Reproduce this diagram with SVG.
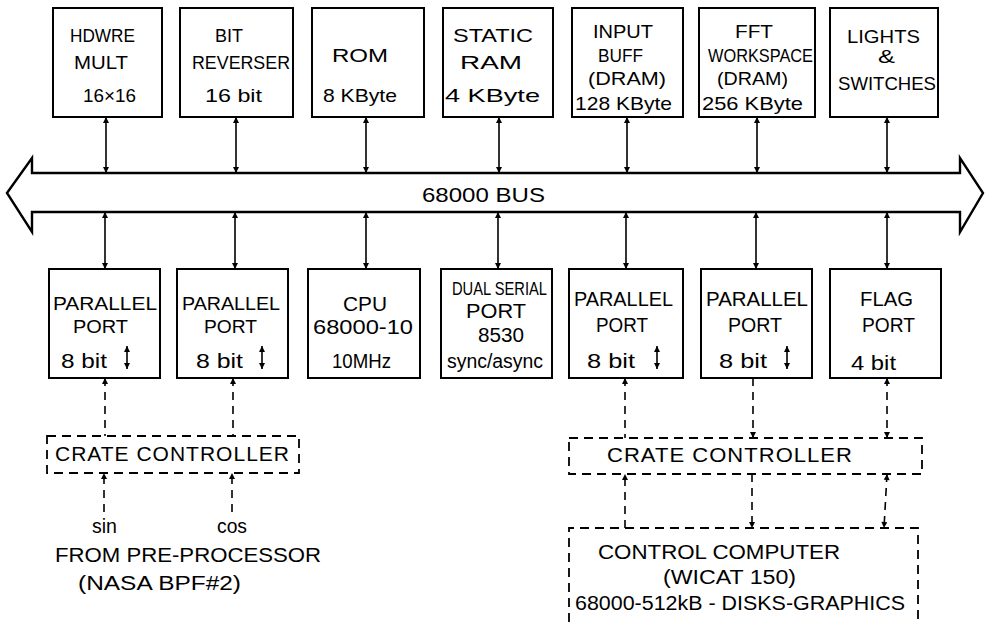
<svg xmlns="http://www.w3.org/2000/svg" width="985" height="622" viewBox="0 0 985 622">
<defs>
<style>
.box{fill:#fff;stroke:#000;stroke-width:2}
.dbox{fill:none;stroke:#000;stroke-width:1.8;stroke-dasharray:9,6}
.ln{stroke:#000;stroke-width:1.6;fill:none}
.dl{stroke:#000;stroke-width:1.6;fill:none;stroke-dasharray:8,6}
text{font-family:"Liberation Sans",Arial,sans-serif;fill:#000}
.t1{font-size:19px}
.t2{font-size:20px}
.t3{font-size:21px;letter-spacing:1px}
</style>
<marker id="ah" viewBox="0 0 10 10" refX="10" refY="5" markerWidth="8" markerHeight="6" markerUnits="userSpaceOnUse" orient="auto-start-reverse">
<path d="M0,0 L10,5 L0,10 Z" fill="#000"/>
</marker>
</defs>
<g id="bus">
<polygon points="7,193 32,158 32,173 960,173 960,158 983,193 960,232 960,212 32,212 32,232" fill="#fff" stroke="#000" stroke-width="2.4" stroke-linejoin="miter"/>
<text x="422" y="202" class="t2" textLength="123" lengthAdjust="spacingAndGlyphs" style="font-size:21px">68000 BUS</text>
</g>
<g id="hdwre-mult">
<rect class="box" x="53" y="8" width="109" height="109"/>
<text class="t1" x="70" y="42" textLength="65" lengthAdjust="spacingAndGlyphs">HDWRE</text>
<text class="t1" x="74" y="69" textLength="54" lengthAdjust="spacingAndGlyphs">MULT</text>
<text class="t1" x="83" y="102" textLength="53" lengthAdjust="spacingAndGlyphs">16×16</text>
</g>
<g id="bit-reverser">
<rect class="box" x="180" y="8" width="113" height="109"/>
<text class="t1" x="215" y="42" textLength="28" lengthAdjust="spacingAndGlyphs">BIT</text>
<text class="t1" x="192" y="69" textLength="98" lengthAdjust="spacingAndGlyphs">REVERSER</text>
<text class="t1" x="205" y="102" textLength="57" lengthAdjust="spacingAndGlyphs">16  bit</text>
</g>
<g id="rom">
<rect class="box" x="312" y="8" width="112" height="109"/>
<text class="t1" x="332" y="62" textLength="56" lengthAdjust="spacingAndGlyphs">ROM</text>
<text class="t1" x="323" y="102" textLength="74" lengthAdjust="spacingAndGlyphs">8 KByte</text>
</g>
<g id="static-ram">
<rect class="box" x="443" y="8" width="110" height="109"/>
<text class="t1" x="453" y="42" textLength="80" lengthAdjust="spacingAndGlyphs">STATIC</text>
<text class="t1" x="460" y="69" textLength="62" lengthAdjust="spacingAndGlyphs">RAM</text>
<text class="t1" x="445" y="102" textLength="95" lengthAdjust="spacingAndGlyphs">4 KByte</text>
</g>
<g id="input-buff">
<rect class="box" x="572" y="8" width="111" height="109"/>
<text class="t1" x="593" y="38" textLength="60" lengthAdjust="spacingAndGlyphs">INPUT</text>
<text class="t1" x="598" y="62" textLength="45" lengthAdjust="spacingAndGlyphs">BUFF</text>
<text class="t1" x="588" y="85" textLength="78" lengthAdjust="spacingAndGlyphs">(DRAM)</text>
<text class="t1" x="575" y="110" textLength="97" lengthAdjust="spacingAndGlyphs">128 KByte</text>
</g>
<g id="fft-workspace">
<rect class="box" x="699" y="8" width="116" height="109"/>
<text class="t1" x="735" y="38" textLength="38" lengthAdjust="spacingAndGlyphs">FFT</text>
<text class="t1" x="708" y="62" textLength="105" lengthAdjust="spacingAndGlyphs">WORKSPACE</text>
<text class="t1" x="717" y="85" textLength="71" lengthAdjust="spacingAndGlyphs">(DRAM)</text>
<text class="t1" x="702" y="110" textLength="101" lengthAdjust="spacingAndGlyphs">256 KByte</text>
</g>
<g id="lights-switches">
<rect class="box" x="830" y="8" width="108" height="109"/>
<text class="t1" x="847" y="43" textLength="73" lengthAdjust="spacingAndGlyphs">LIGHTS</text>
<text class="t1" x="878" y="63" textLength="17" lengthAdjust="spacingAndGlyphs">&amp;</text>
<text class="t1" x="838" y="90" textLength="98" lengthAdjust="spacingAndGlyphs">SWITCHES</text>
</g>
<g id="parallel-port-1">
<rect class="box" x="49" y="269" width="111" height="109"/>
<text class="t1" x="53" y="310" textLength="104" lengthAdjust="spacingAndGlyphs">PARALLEL</text>
<text class="t1" x="73" y="333" textLength="55" lengthAdjust="spacingAndGlyphs">PORT</text>
<text class="t2" x="61" y="368" textLength="46" lengthAdjust="spacingAndGlyphs">8 bit</text>
<line class="ln" x1="127" y1="346" x2="127" y2="369" marker-start="url(#ah)" marker-end="url(#ah)"/>
</g>
<g id="parallel-port-2">
<rect class="box" x="177" y="269" width="111" height="109"/>
<text class="t1" x="182" y="310" textLength="98" lengthAdjust="spacingAndGlyphs">PARALLEL</text>
<text class="t1" x="204" y="333" textLength="53" lengthAdjust="spacingAndGlyphs">PORT</text>
<text class="t2" x="196" y="368" textLength="47" lengthAdjust="spacingAndGlyphs">8 bit</text>
<line class="ln" x1="262" y1="346" x2="262" y2="369" marker-start="url(#ah)" marker-end="url(#ah)"/>
</g>
<g id="cpu">
<rect class="box" x="308" y="269" width="112" height="109"/>
<text class="t2" x="343" y="311" textLength="44" lengthAdjust="spacingAndGlyphs">CPU</text>
<text class="t2" x="313" y="334" textLength="100" lengthAdjust="spacingAndGlyphs">68000-10</text>
<text class="t2" x="332" y="368" textLength="59" lengthAdjust="spacingAndGlyphs">10MHz</text>
</g>
<g id="dual-serial-port">
<rect class="box" x="441" y="269" width="111" height="109"/>
<text class="t2" x="452" y="295" textLength="95" lengthAdjust="spacingAndGlyphs" style="font-size:18px">DUAL SERIAL</text>
<text class="t2" x="466" y="318" textLength="60" lengthAdjust="spacingAndGlyphs">PORT</text>
<text class="t2" x="478" y="342" textLength="46" lengthAdjust="spacingAndGlyphs">8530</text>
<text class="t2" x="447" y="368" textLength="96" lengthAdjust="spacingAndGlyphs">sync/async</text>
</g>
<g id="parallel-port-3">
<rect class="box" x="569" y="269" width="114" height="109"/>
<text class="t2" x="574" y="306" textLength="99" lengthAdjust="spacingAndGlyphs">PARALLEL</text>
<text class="t2" x="596" y="332" textLength="52" lengthAdjust="spacingAndGlyphs">PORT</text>
<text class="t2" x="587" y="368" textLength="48" lengthAdjust="spacingAndGlyphs">8 bit</text>
<line class="ln" x1="657" y1="346" x2="657" y2="369" marker-start="url(#ah)" marker-end="url(#ah)"/>
</g>
<g id="parallel-port-4">
<rect class="box" x="701" y="269" width="111" height="109"/>
<text class="t2" x="706" y="306" textLength="102" lengthAdjust="spacingAndGlyphs">PARALLEL</text>
<text class="t2" x="728" y="332" textLength="54" lengthAdjust="spacingAndGlyphs">PORT</text>
<text class="t2" x="719" y="368" textLength="48" lengthAdjust="spacingAndGlyphs">8 bit</text>
<line class="ln" x1="787" y1="346" x2="787" y2="369" marker-start="url(#ah)" marker-end="url(#ah)"/>
</g>
<g id="flag-port">
<rect class="box" x="830" y="269" width="111" height="109"/>
<text class="t2" x="860" y="306" textLength="53" lengthAdjust="spacingAndGlyphs">FLAG</text>
<text class="t2" x="862" y="332" textLength="53" lengthAdjust="spacingAndGlyphs">PORT</text>
<text class="t2" x="851" y="370" textLength="45" lengthAdjust="spacingAndGlyphs">4 bit</text>
</g>
<g id="crate-controller-left">
<rect class="dbox" x="47" y="436" width="252" height="37"/>
<text class="t3" x="55" y="461" textLength="235" lengthAdjust="spacingAndGlyphs">CRATE CONTROLLER</text>
</g>
<g id="crate-controller-right">
<rect class="dbox" x="569" y="438" width="353" height="36"/>
<text class="t3" x="607" y="462" textLength="246" lengthAdjust="spacingAndGlyphs">CRATE CONTROLLER</text>
</g>
<g id="control-computer">
<path class="dbox" d="M569,622 L569,528 L918,528 L918,622"/>
<text class="t2" x="598" y="559" textLength="242" lengthAdjust="spacingAndGlyphs">CONTROL COMPUTER</text>
<text class="t2" x="663" y="584" textLength="133" lengthAdjust="spacingAndGlyphs">(WICAT 150)</text>
<text class="t2" x="575" y="610" textLength="330" lengthAdjust="spacingAndGlyphs">68000-512kB - DISKS-GRAPHICS</text>
</g>
<g id="source-labels">
<text class="t2" x="92" y="533" textLength="25" lengthAdjust="spacingAndGlyphs">sin</text>
<text class="t2" x="217" y="533" textLength="30" lengthAdjust="spacingAndGlyphs">cos</text>
<text class="t2" x="55" y="562" textLength="266" lengthAdjust="spacingAndGlyphs">FROM  PRE-PROCESSOR</text>
<text class="t2" x="78" y="590" textLength="163" lengthAdjust="spacingAndGlyphs">(NASA  BPF#2)</text>
</g>
<g id="connectors">
<line class="ln" x1="106" y1="117" x2="106" y2="173" marker-start="url(#ah)" marker-end="url(#ah)"/>
<line class="ln" x1="236" y1="117" x2="236" y2="173" marker-start="url(#ah)" marker-end="url(#ah)"/>
<line class="ln" x1="366" y1="117" x2="366" y2="173" marker-start="url(#ah)" marker-end="url(#ah)"/>
<line class="ln" x1="499" y1="117" x2="499" y2="173" marker-start="url(#ah)" marker-end="url(#ah)"/>
<line class="ln" x1="627" y1="117" x2="627" y2="173" marker-start="url(#ah)" marker-end="url(#ah)"/>
<line class="ln" x1="757" y1="117" x2="757" y2="173" marker-start="url(#ah)" marker-end="url(#ah)"/>
<line class="ln" x1="887" y1="117" x2="887" y2="173" marker-start="url(#ah)" marker-end="url(#ah)"/>
<line class="ln" x1="105" y1="212" x2="105" y2="269" marker-start="url(#ah)" marker-end="url(#ah)"/>
<line class="ln" x1="235" y1="212" x2="235" y2="269" marker-start="url(#ah)" marker-end="url(#ah)"/>
<line class="ln" x1="366" y1="212" x2="366" y2="269" marker-start="url(#ah)" marker-end="url(#ah)"/>
<line class="ln" x1="498" y1="212" x2="498" y2="269" marker-start="url(#ah)" marker-end="url(#ah)"/>
<line class="ln" x1="626" y1="212" x2="626" y2="269" marker-start="url(#ah)" marker-end="url(#ah)"/>
<line class="ln" x1="756" y1="212" x2="756" y2="269" marker-start="url(#ah)" marker-end="url(#ah)"/>
<line class="ln" x1="887" y1="212" x2="887" y2="269" marker-start="url(#ah)" marker-end="url(#ah)"/>
<line class="dl" x1="105" y1="378" x2="105" y2="436" marker-start="url(#ah)"/>
<line class="dl" x1="233" y1="378" x2="233" y2="436" marker-start="url(#ah)"/>
<line class="dl" x1="104" y1="512" x2="104" y2="473" marker-end="url(#ah)"/>
<line class="dl" x1="232" y1="512" x2="232" y2="473" marker-end="url(#ah)"/>
<line class="dl" x1="625" y1="378" x2="625" y2="438" marker-start="url(#ah)"/>
<line class="dl" x1="753" y1="378" x2="753" y2="438" marker-end="url(#ah)"/>
<line class="dl" x1="887" y1="378" x2="887" y2="438" marker-start="url(#ah)" marker-end="url(#ah)"/>
<line class="dl" x1="625" y1="528" x2="625" y2="474" marker-end="url(#ah)"/>
<line class="dl" x1="752" y1="474" x2="752" y2="528" marker-end="url(#ah)"/>
<line class="dl" x1="887" y1="474" x2="884" y2="528" marker-start="url(#ah)" marker-end="url(#ah)"/>
</g>
</svg>
